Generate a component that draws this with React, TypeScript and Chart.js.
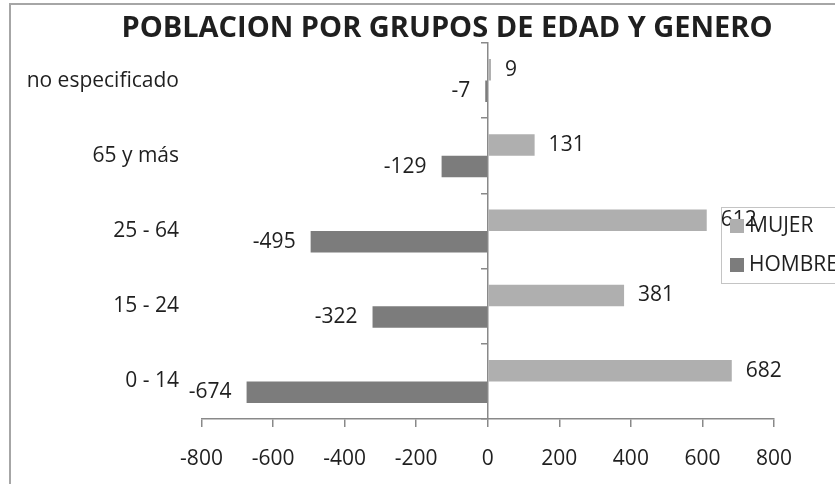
import React, { useEffect, useRef } from "react";
import { Chart, registerables } from "chart.js";

Chart.register(...registerables);

// ---- data ----
const TITLE = "POBLACION POR GRUPOS DE EDAD Y GENERO";
const CATEGORIES = ["no especificado", "65 y más", "25 - 64", "15 - 24", "0 - 14"];
const SERIES_NAMES = ["MUJER", "HOMBRE"];
const MUJER = [9, 131, 612, 381, 682];
const HOMBRE = [-7, -129, -495, -322, -674];
const X_TICKS = [-800, -600, -400, -200, 0, 200, 400, 600, 800];

// ---- styles ----
const FONT = "'Open Sans', 'Noto Sans', sans-serif";
const TEXT = "#1f1f1f";
const AXIS = "#898989";
const COLOR_MUJER = "#AFAFAF";
const COLOR_HOMBRE = "#7C7C7C";

const framePlugin = {
  id: "frame",
  beforeDraw(chart: any) {
    const ctx = chart.ctx;
    ctx.save();
    ctx.fillStyle = "#ffffff";
    ctx.fillRect(0, 0, chart.width, chart.height);
    ctx.fillStyle = "#A6A6A6";
    ctx.fillRect(9, 3, 2, chart.height);
    ctx.fillRect(9, 3, chart.width, 2);
    // title
    ctx.fillStyle = TEXT;
    ctx.font = `bold 29px ${FONT}`;
    ctx.textAlign = "center";
    ctx.textBaseline = "middle";
    ctx.fillText(TITLE, 447, 28.5);
    ctx.restore();
  },
};

const valueLabels = {
  id: "valueLabels",
  afterDatasetsDraw(chart: any) {
    const ctx = chart.ctx;
    ctx.save();
    ctx.font = `21px ${FONT}`;
    ctx.fillStyle = TEXT;
    ctx.textBaseline = "middle";
    chart.data.datasets.forEach((ds: any, i: number) => {
      const meta = chart.getDatasetMeta(i);
      meta.data.forEach((bar: any, j: number) => {
        const v = ds.data[j];
        if (v >= 0) {
          ctx.textAlign = "left";
          ctx.fillText(String(v), bar.x + 14, bar.y);
        } else {
          ctx.textAlign = "right";
          ctx.fillText(String(v), bar.x - 15, bar.y);
        }
      });
    });
    ctx.restore();
  },
};

const legendBox = {
  id: "legendBox",
  afterDraw(chart: any) {
    const ctx = chart.ctx;
    ctx.save();
    ctx.strokeStyle = "#C4C4C4";
    ctx.lineWidth = 1;
    ctx.strokeRect(721.5, 207.5, 220, 76);
    ctx.font = `21px ${FONT}`;
    ctx.textBaseline = "middle";
    ctx.textAlign = "left";
    chart.data.datasets.forEach((ds: any, i: number) => {
      const cy = 226 + i * 39;
      ctx.fillStyle = ds.backgroundColor;
      ctx.fillRect(730, cy - 7, 14, 14);
      ctx.fillStyle = TEXT;
      ctx.fillText(ds.label, 749, cy);
    });
    ctx.restore();
  },
};

export default function App() {
  const ref = useRef<HTMLCanvasElement | null>(null);

  useEffect(() => {
    if (!ref.current) return;
    const chart = new Chart(ref.current, {
      type: "bar",
      data: {
        labels: CATEGORIES,
        datasets: [
          {
            label: SERIES_NAMES[0],
            data: MUJER,
            backgroundColor: COLOR_MUJER,
            categoryPercentage: 0.572,
            barPercentage: 1,
          },
          {
            label: SERIES_NAMES[1],
            data: HOMBRE,
            backgroundColor: COLOR_HOMBRE,
            categoryPercentage: 0.572,
            barPercentage: 1,
          },
        ],
      },
      options: {
        indexAxis: "y",
        responsive: false,
        animation: false,
        layout: { padding: { left: 10, right: 61, top: 43, bottom: 12.8 } },
        plugins: {
          legend: { display: false },
          tooltip: { enabled: false },
          title: { display: false },
        },
        scales: {
          x: {
            type: "linear",
            min: X_TICKS[0],
            max: X_TICKS[X_TICKS.length - 1],
            afterBuildTicks: (scale: any) => {
              scale.ticks = X_TICKS.map((v) => ({ value: v }));
            },
            afterFit: (scale: any) => {
              scale.height = 52.2;
            },
            ticks: {
              color: TEXT,
              font: { family: FONT, size: 21 },
              padding: 19,
              maxRotation: 0,
              callback: (v: any) => String(v),
            },
            grid: {
              display: true,
              drawOnChartArea: false,
              drawTicks: true,
              tickLength: 8,
              color: AXIS,
              lineWidth: 1.5,
            },
            border: { display: true, color: AXIS, width: 1.5 },
          },
          y: {
            type: "category",
            position: "left",
            offset: true,
            afterFit: (scale: any) => {
              scale.width = 191.5;
            },
            ticks: {
              color: TEXT,
              font: { family: FONT, size: 21 },
              padding: 22.5,
              autoSkip: false,
            },
            grid: { display: false, drawTicks: false },
            border: { display: false },
          },
          yZero: {
            type: "category",
            axis: "y",
            position: { x: 0 },
            offset: true,
            ticks: { display: false },
            grid: {
              display: true,
              offset: true,
              drawOnChartArea: false,
              drawTicks: true,
              tickLength: 6,
              color: AXIS,
              lineWidth: 1.5,
            },
            border: { display: true, color: AXIS, width: 1.5 },
          },
        },
      } as any,
      plugins: [framePlugin, valueLabels, legendBox],
    });
    return () => chart.destroy();
  }, []);

  return (
    <div
      style={{
        position: "fixed",
        left: 0,
        top: 0,
        width: 835,
        height: 484,
        overflow: "hidden",
        background: "#fff",
      }}
    >
      <canvas ref={ref} width={835} height={484} style={{ display: "block" }} />
    </div>
  );
}
